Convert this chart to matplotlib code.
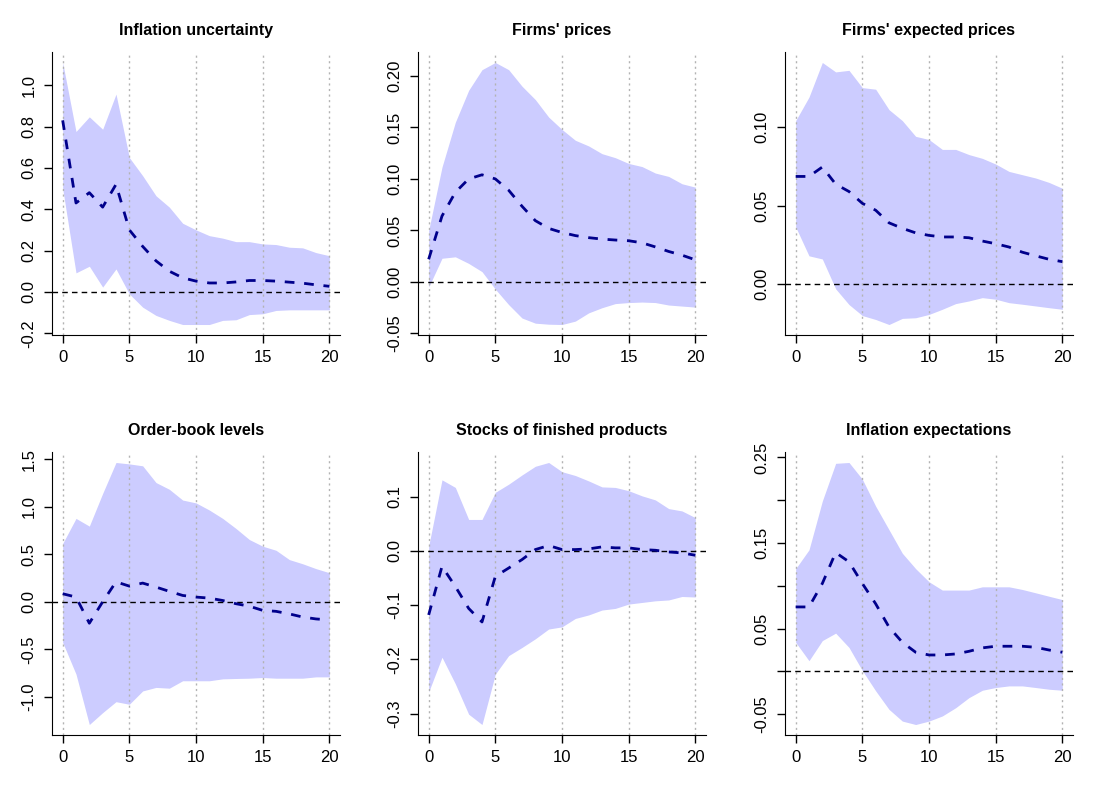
import numpy as np
import matplotlib
matplotlib.use("Agg")
import matplotlib.pyplot as plt

plt.rcParams['font.family'] = ['Liberation Sans', 'DejaVu Sans']
plt.rcParams['axes.unicode_minus'] = False

horizon = list(range(21))

titles = ["Inflation uncertainty", "Firms' prices", "Firms' expected prices",
          "Order-book levels", "Stocks of finished products", "Inflation expectations"]

# inflation uncertainty
unc_mid = [0.83, 0.43, 0.48, 0.41, 0.52, 0.30, 0.22, 0.15, 0.10, 0.068, 0.052,
           0.043, 0.043, 0.048, 0.055, 0.055, 0.052, 0.047, 0.042, 0.034, 0.027]
unc_hi = [1.11, 0.776, 0.847, 0.787, 0.957, 0.65, 0.562, 0.465, 0.41, 0.332, 0.30,
          0.272, 0.26, 0.243, 0.243, 0.232, 0.229, 0.216, 0.213, 0.19, 0.175]
unc_lo = [0.50, 0.092, 0.124, 0.023, 0.111, -0.01, -0.074, -0.114, -0.138, -0.158, -0.158,
          -0.158, -0.138, -0.135, -0.11, -0.106, -0.09, -0.087, -0.087, -0.087, -0.087]

# firms' prices
prc_mid = [0.022, 0.064, 0.087, 0.100, 0.104, 0.100, 0.089, 0.0735, 0.0595, 0.052, 0.048,
           0.045, 0.043, 0.0416, 0.0407, 0.040, 0.038, 0.034, 0.0296, 0.026, 0.0215]
prc_hi = [0.05, 0.1115, 0.155, 0.186, 0.206, 0.213, 0.206, 0.19, 0.177, 0.16, 0.148,
          0.1375, 0.132, 0.1245, 0.1206, 0.115, 0.112, 0.1057, 0.1024, 0.0953, 0.092]
prc_lo = [-0.005, 0.023, 0.0244, 0.018, 0.010, -0.007, -0.022, -0.035, -0.040, -0.041, -0.0413,
          -0.038, -0.030, -0.025, -0.021, -0.020, -0.0195, -0.020, -0.0224, -0.0234, -0.0244]

# firms' expected prices
exp_mid = [0.0685, 0.0685, 0.0745, 0.0636, 0.0589, 0.0514, 0.047, 0.039, 0.0355, 0.0326, 0.031,
           0.030, 0.030, 0.0295, 0.0274, 0.0257, 0.0236, 0.0203, 0.018, 0.0158, 0.0143]
exp_hi = [0.104, 0.119, 0.141, 0.135, 0.136, 0.125, 0.124, 0.111, 0.104, 0.094, 0.092,
          0.0857, 0.0857, 0.0824, 0.080, 0.0764, 0.0717, 0.0696, 0.0675, 0.0647, 0.061]
exp_lo = [0.0364, 0.018, 0.016, -0.003, -0.013, -0.020, -0.0225, -0.0257, -0.0218, -0.0214, -0.0193,
          -0.016, -0.0124, -0.0107, -0.0086, -0.0096, -0.0118, -0.0128, -0.0139, -0.015, -0.016]

# order-book levels
ord_mid = [0.085, 0.05, -0.225, 0.0, 0.21, 0.165, 0.197, 0.155, 0.11, 0.067, 0.05,
           0.039, 0.014, -0.02, -0.046, -0.09, -0.1, -0.127, -0.16, -0.18, -0.19]
ord_hi = [0.613, 0.877, 0.796, 1.14, 1.465, 1.45, 1.43, 1.254, 1.183, 1.07, 1.04,
          0.965, 0.877, 0.771, 0.655, 0.585, 0.542, 0.444, 0.40, 0.349, 0.306]
ord_lo = [-0.426, -0.76, -1.29, -1.165, -1.05, -1.077, -0.937, -0.9, -0.908, -0.83, -0.83,
          -0.83, -0.81, -0.806, -0.803, -0.796, -0.803, -0.803, -0.803, -0.789, -0.789]

# stocks of finished products
stk_mid = [-0.118, -0.0285, -0.0656, -0.106, -0.131, -0.047, -0.0316, -0.016, 0.0025, 0.0099, 0.0025,
           0.0025, 0.0037, 0.0074, 0.0056, 0.0056, 0.0025, 0.0012, -0.0019, -0.0037, -0.008]
stk_hi = [0.0087, 0.131, 0.117, 0.058, 0.058, 0.108, 0.123, 0.14, 0.156, 0.163, 0.146,
          0.139, 0.129, 0.118, 0.117, 0.111, 0.1015, 0.094, 0.078, 0.0737, 0.0613]
stk_lo = [-0.26, -0.196, -0.245, -0.301, -0.32, -0.227, -0.193, -0.178, -0.162, -0.144, -0.14,
          -0.1245, -0.118, -0.109, -0.106, -0.098, -0.095, -0.092, -0.0904, -0.084, -0.085]

# inflation expectations
ie_mid = [0.0753, 0.0753, 0.1027, 0.1388, 0.128, 0.1027, 0.079, 0.0518, 0.034, 0.0224, 0.0192,
          0.0192, 0.0204, 0.0235, 0.0275, 0.0294, 0.0294, 0.0294, 0.0282, 0.025, 0.0224]
ie_hi = [0.120, 0.142, 0.199, 0.243, 0.244, 0.2245, 0.193, 0.1655, 0.138, 0.120, 0.1047,
         0.095, 0.095, 0.095, 0.0988, 0.0988, 0.0988, 0.0957, 0.0918, 0.0878, 0.0839]
ie_lo = [0.034, 0.0125, 0.036, 0.0447, 0.028, 0.001, -0.0227, -0.0443, -0.058, -0.062, -0.058,
         -0.052, -0.0424, -0.0306, -0.022, -0.0188, -0.0169, -0.0169, -0.0188, -0.0208, -0.022]

mids = [unc_mid, prc_mid, exp_mid, ord_mid, stk_mid, ie_mid]
his = [unc_hi, prc_hi, exp_hi, ord_hi, stk_hi, ie_hi]
los = [unc_lo, prc_lo, exp_lo, ord_lo, stk_lo, ie_lo]

yticks = [
    [-0.2, 0.0, 0.2, 0.4, 0.6, 0.8, 1.0],
    [-0.05, 0.0, 0.05, 0.10, 0.15, 0.20],
    [0.0, 0.05, 0.10],
    [-1.0, -0.5, 0.0, 0.5, 1.0, 1.5],
    [-0.3, -0.2, -0.1, 0.0, 0.1],
    [-0.05, 0.0, 0.05, 0.10, 0.15, 0.20, 0.25],
]
ylabels = [
    ["-0.2", "0.0", "0.2", "0.4", "0.6", "0.8", "1.0"],
    ["-0.05", "0.00", "0.05", "0.10", "0.15", "0.20"],
    ["0.00", "0.05", "0.10"],
    ["-1.0", "-0.5", "0.0", "0.5", "1.0", "1.5"],
    ["-0.3", "-0.2", "-0.1", "0.0", "0.1"],
    ["-0.05", "", "0.05", "", "0.15", "", "0.25"],
]
xticks = [0, 5, 10, 15, 20]

fig = plt.figure(figsize=(11, 8), dpi=100)
lefts = [52, 418, 785]
tops = [52, 452]
w, h = 288, 283

for i in range(6):
    r, c = divmod(i, 3)
    ax = fig.add_axes([lefts[c] / 1100, 1 - (tops[r] + h) / 800, w / 1100, h / 800])
    ax.fill_between(horizon, los[i], his[i], color='#ccccff', lw=0, zorder=1)
    for xv in xticks:
        ax.axvline(xv, color='#b3b3b3', lw=1, ls=(0, (1.5, 2.5)), zorder=2)
    ax.axhline(0, color='black', lw=1, ls=(0, (4, 3)), zorder=3)
    ax.plot(horizon, mids[i], color='#00008b', lw=2, ls=(0, (3.5, 3.5)), zorder=4)
    ax.margins(x=0.04, y=0.04)
    ax.set_xticks(xticks)
    ax.set_yticks(yticks[i])
    ax.set_yticklabels(ylabels[i])
    for lab in ax.get_yticklabels():
        lab.set_rotation(90)
        lab.set_va('center')
    ax.spines['top'].set_visible(False)
    ax.spines['right'].set_visible(False)
    ax.tick_params(direction='out', length=6, width=1, labelsize=12, pad=5)
    ax.set_title(titles[i], fontsize=11.5, fontweight='bold', pad=12)

fig.savefig('out.png', dpi=100)
